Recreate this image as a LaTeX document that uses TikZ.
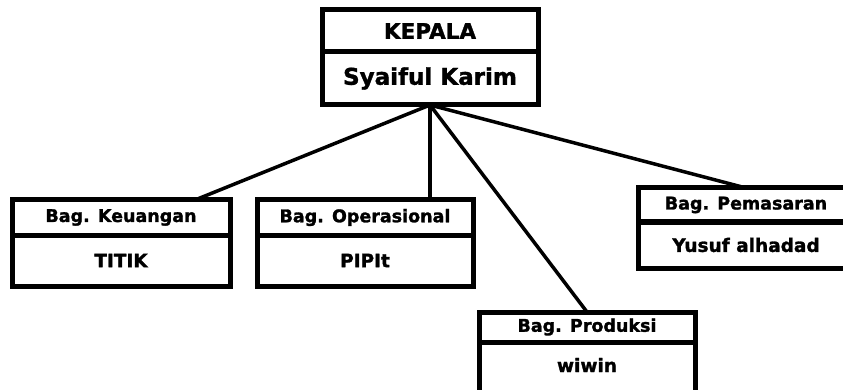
\documentclass[tikz,border=0pt]{standalone}
\usepackage{fontspec}
\setmainfont{DejaVu Sans}[BoldFont={DejaVu Sans Bold},BoldFeatures={FakeBold=1.5}]
\usetikzlibrary{positioning}

\begin{document}
\begin{tikzpicture}[x=1pt,y=-1pt,
    post/.style={draw,line width=5pt,outer sep=0pt,inner sep=0pt,
      minimum width=216pt,font=\bfseries\fontsize{17.5}{17.5}\selectfont},
    namepost/.style={post,font=\bfseries\fontsize{18.5}{18.5}\selectfont},
    bigpost/.style={post,font=\bfseries\fontsize{23}{23}\selectfont},
    link/.style={line width=3.5pt}]
  \useasboundingbox (0,0) rectangle (843,390);
  \clip (0,0) rectangle (843,390);
  % kepala
  \node[bigpost,minimum height=42pt,font=\bfseries\fontsize{21.5}{21.5}\selectfont] (kepala) at (430,31) {KEPALA};
  \node[bigpost,minimum height=53pt,below=0pt of kepala] (karim) {Syaiful Karim};
  % bagian
  \node[post,minimum width=218pt,minimum height=35pt] (keutitle) at (121,217.5) {Bag. Keuangan};
  \node[namepost,minimum width=218pt,minimum height=51pt,below=0pt of keutitle] (titik) {TITIK};
  \node[post,minimum height=35pt] (opstitle) at (365,217.5) {Bag. Operasional};
  \node[namepost,minimum height=51pt,below=0pt of opstitle] (pipit) {PIPIt};
  \node[post,minimum height=30pt] (protitle) at (587,327) {Bag. Produksi};
  \node[namepost,minimum height=56pt,text depth=10pt,below=0pt of protitle] (wiwin) {wiwin};
  \node[post,minimum height=34pt] (pemtitle) at (746,205) {Bag. Pemasaran};
  \node[namepost,minimum height=46pt,below=0pt of pemtitle] (yusuf) {Yusuf alhadad};
  % garis
  \draw[link] (karim.south) -- ([xshift=-35pt]keutitle.north east);
  \draw[link] (karim.south) -- ([xshift=-43pt]opstitle.north east);
  \draw[link] (karim.south) -- (protitle.north);
  \draw[link] (karim.south) -- (pemtitle.north);
\end{tikzpicture}
\end{document}
